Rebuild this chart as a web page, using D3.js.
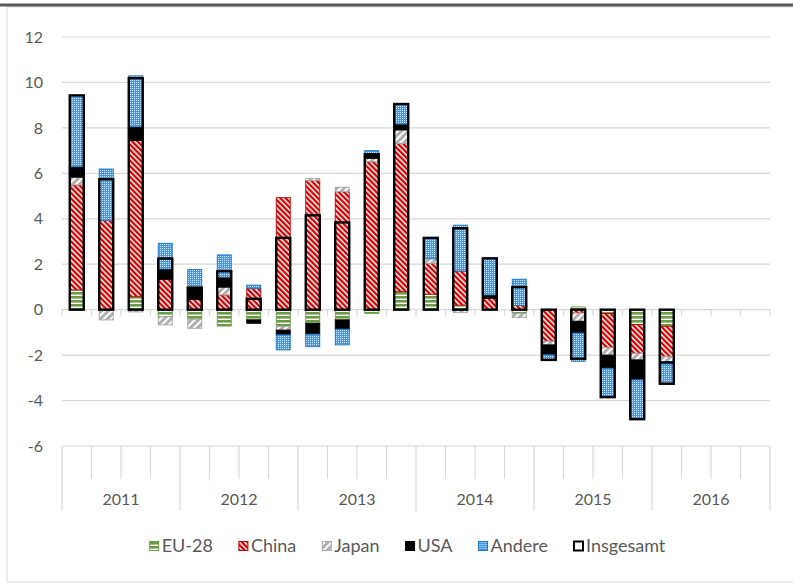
<!DOCTYPE html>
<html><head><meta charset="utf-8">
<script src="https://cdn.jsdelivr.net/npm/d3@7"></script>
<style>
body{margin:0;background:#fff}
svg{display:block}
text{font-family:Lato,"Open Sans",sans-serif;fill:#595959}
</style>
</head><body>
<svg id="c" width="793" height="583"></svg>
<script>
// ---- data ----
const years = ["2011","2012","2013","2014","2015","2016"];
const quarters = years.flatMap(y => ["Q1","Q2","Q3","Q4"].map(q => y + "-" + q));
const seriesNames = ["EU-28","China","Japan","USA","Andere"];
const eu28   = [0.87, 0.02, 0.57,-0.31,-0.42,-0.72,-0.45,-0.73,-0.60,-0.45,-0.16, 0.79, 0.68, 0.20, 0.00,-0.16, 0.00, 0.12,-0.17,-0.65,-0.73];
const china  = [4.62, 3.90, 6.87, 1.34, 0.45, 0.65, 0.94, 4.93, 5.68, 5.19, 6.51, 6.52, 1.36, 1.50, 0.50, 0.18,-1.39,-0.15,-1.50,-1.27,-1.34];
const japan  = [0.34,-0.45,-0.10,-0.36,-0.40, 0.34, 0.00,-0.17, 0.10, 0.20, 0.15, 0.60, 0.20,-0.13, 0.00,-0.19,-0.16,-0.36,-0.33,-0.29,-0.22];
const usa    = [0.46, 0.00, 0.61, 0.45, 0.53, 0.44,-0.15,-0.21,-0.48,-0.41, 0.18, 0.26, 0.00, 0.00, 0.15, 0.00,-0.44,-0.52,-0.58,-0.88,-0.10];
const andere = [3.12, 2.27, 2.24, 1.13, 0.79, 0.98, 0.14,-0.66,-0.55,-0.69, 0.16, 0.88, 0.92, 2.02, 1.61, 1.16,-0.22,-1.24,-1.25,-1.71,-0.85];
const insgesamt = [9.43, 5.74, 10.19, 2.25, 0.97, 1.69, 0.48, 3.16, 4.15, 3.84, 6.84, 9.05, 3.16, 3.58, 2.26, 0.99,-2.21,-2.16,-3.85,-4.82,-3.26];
const yTicks = [-6,-4,-2,0,2,4,6,8,10,12];

const seriesData = [eu28, china, japan, usa, andere];
const rows = insgesamt.map((t, i) => {
  const r = {q: quarters[i], total: t};
  seriesNames.forEach((s, k) => r[s] = seriesData[k][i]);
  return r;
});

const svg = d3.select("#c");
const W = 793, H = 583;

// frame
svg.append("rect").attr("x",7).attr("y",7).attr("width",W+10).attr("height",575)
  .attr("fill","none").attr("stroke","#d9d9d9").attr("stroke-width",1);
svg.append("line").attr("x1",0).attr("x2",W).attr("y1",5).attr("y2",5)
  .attr("stroke","#595959").attr("stroke-width",3);

// patterns
const defs = svg.append("defs");
function pat(id, w, h, bg, fg, fgAttrs, transform){
  const p = defs.append("pattern").attr("id",id).attr("patternUnits","userSpaceOnUse")
    .attr("width",w).attr("height",h);
  if (transform) p.attr("patternTransform", transform);
  p.append("rect").attr("width",w).attr("height",h).attr("fill",bg);
  const r = p.append("rect").attr("fill",fg);
  Object.entries(fgAttrs).forEach(([k,v]) => r.attr(k,v));
}
pat("pEU", 4, 4, "#6b9b45", "#ffffff", {x:0,y:2.6,width:4,height:1.4});
pat("pCN", 3.8, 3.8, "#ffffff", "#d00000", {x:0,y:0,width:2.3,height:3.8}, "rotate(-45)");
pat("pJP", 5, 5, "#ffffff", "#b0b0b0", {x:0,y:0,width:3,height:5}, "rotate(45)");
pat("pAN", 2, 2, "#4398e2", "#cfe7fc", {x:0,y:0,width:1,height:1});

const fills = {"EU-28":"url(#pEU)","China":"url(#pCN)","Japan":"url(#pJP)","USA":"#000000","Andere":"url(#pAN)"};
const strokes = {"EU-28":"#6b9b45","China":"#c00000","Japan":"#a6a6a6","USA":"#000000","Andere":"#1a78c8"};

// scales
const x = d3.scaleBand().domain(quarters).range([62,770]).padding(0);
const xYear = d3.scaleBand().domain(years).range([62,770]).padding(0);
const y = d3.scaleLinear().domain([-6,12]).range([446,37]);
const bw = 14;
const bx = q => x(q) + (x.bandwidth() - bw)/2;

// gridlines
svg.append("g").selectAll("line").data(yTicks).join("line")
  .attr("x1",62).attr("x2",770).attr("y1",d=>y(d)).attr("y2",d=>y(d))
  .attr("stroke","#d9d9d9").attr("stroke-width",1.2);

// y axis labels
const yAxis = svg.append("g").attr("transform","translate(62,0)")
  .call(d3.axisLeft(y).tickValues(yTicks).tickSize(0).tickPadding(19).tickFormat(d => String(d)));
yAxis.select(".domain").remove();
yAxis.selectAll("text").style("font-size","16px").attr("fill","#595959")
  .style("font-family","Lato,'Open Sans',sans-serif");

// tick marks on zero line and category axis
const bounds = d3.range(quarters.length + 1).map(k => 62 + k * x.bandwidth());
svg.append("g").selectAll("line").data(bounds).join("line")
  .attr("x1",d=>d).attr("x2",d=>d).attr("y1",y(0)).attr("y2",y(0)+6)
  .attr("stroke","#d9d9d9").attr("stroke-width",1.2);
svg.append("g").selectAll("line").data(bounds).join("line")
  .attr("x1",d=>d).attr("x2",d=>d).attr("y1",y(-6))
  .attr("y2",(d,k)=> k % 4 === 0 ? 511 : 479)
  .attr("stroke","#d9d9d9").attr("stroke-width",1.2);

// year labels
svg.append("g").selectAll("text").data(years).join("text")
  .attr("x",d=>xYear(d)+xYear.bandwidth()/2).attr("y",505)
  .attr("text-anchor","middle").style("font-size","16px").text(d=>d);

// stacked bars
const stack = d3.stack().keys(seriesNames).offset(d3.stackOffsetDiverging);
const stacked = stack(rows);
const gBars = svg.append("g");
stacked.forEach(layer => {
  gBars.append("g").selectAll("rect").data(layer.filter(d => Math.abs(d[1]-d[0]) > 1e-9)).join("rect")
    .attr("x", d => bx(d.data.q))
    .attr("width", bw)
    .attr("y", d => y(Math.max(d[0],d[1])))
    .attr("height", d => Math.abs(y(d[0]) - y(d[1])))
    .attr("fill", fills[layer.key])
    .attr("stroke", strokes[layer.key])
    .attr("stroke-width", 0.9);
});

// total outlines
svg.append("g").selectAll("rect").data(rows).join("rect")
  .attr("x", d => bx(d.q))
  .attr("width", bw)
  .attr("y", d => y(Math.max(0,d.total)))
  .attr("height", d => Math.abs(y(d.total) - y(0)))
  .attr("fill","none").attr("stroke","#000").attr("stroke-width",2.4);

// legend
const legendItems = seriesNames.concat(["Insgesamt"]);
const lg = svg.append("g");
const items = lg.selectAll("g").data(legendItems).join("g");
items.append("rect").attr("x",0).attr("y",-4.5).attr("width",9).attr("height",9)
  .attr("fill", d => d === "Insgesamt" ? "#fff" : fills[d])
  .attr("stroke", d => d === "Insgesamt" ? "#000" : strokes[d])
  .attr("stroke-width", d => d === "Insgesamt" ? 2 : 1);
items.append("text").attr("x",12).attr("y",6.3).style("font-size","18px").text(d=>d);
const gap = 26;
let cx = 0;
const pos = [];
items.each(function(d){
  const w = 12 + this.querySelector("text").getComputedTextLength();
  pos.push(cx); cx += w + gap;
});
const total = cx - gap;
const start = 407.5 - total/2;
items.attr("transform",(d,i)=>`translate(${start+pos[i]},546)`);
</script>
</body></html>
